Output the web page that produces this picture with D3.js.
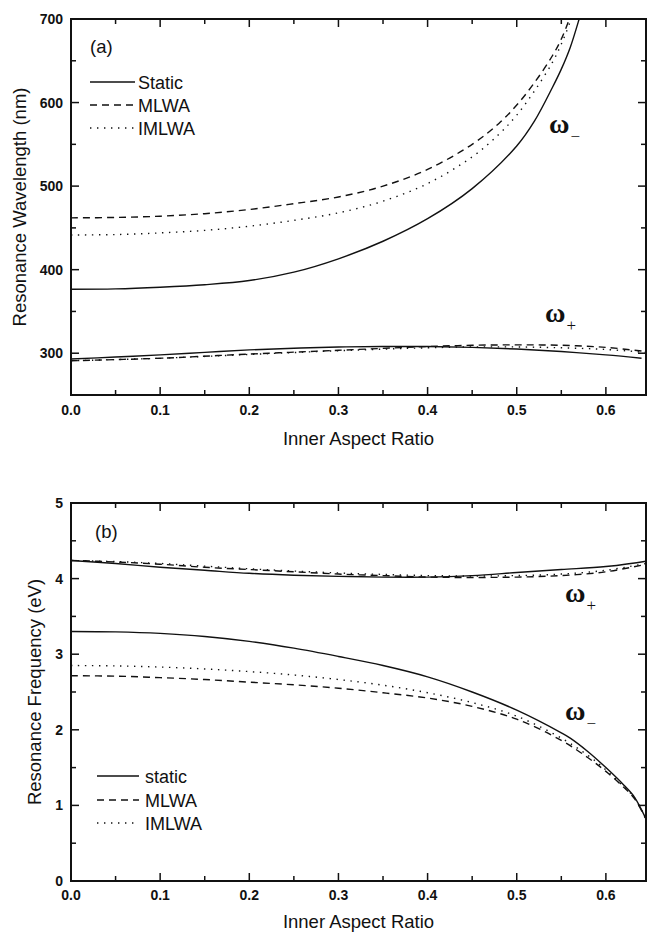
<!DOCTYPE html>
<html lang="en">
<head>
    <meta charset="UTF-8">
    <title>Resonance vs Inner Aspect Ratio</title>
    <script src="https://d3js.org/d3.v7.min.js"></script>
    <style>
        body { margin: 0; background: #fff; }
        svg { display: block; font-family: Arial, "Liberation Sans", sans-serif; }
        .tick-label { font-weight: bold; font-size: 14px; fill: #111; }
        .axis-title { font-size: 18.5px; fill: #111; }
        .legend-text { font-size: 18px; fill: #111; }
        .omega { font-family: "Liberation Serif", "DejaVu Serif", serif; font-weight: bold; font-size: 28px; fill: #111; }
        .curve { fill: none; stroke: #111; stroke-width: 1.4px; }
    </style>
</head>
<body>
<script>
    // panel (a): resonance wavelength (nm) vs inner aspect ratio
    const aStaticMinus = [[0,376.5],[0.05,377],[0.1,379],[0.15,382],[0.2,387],[0.25,397],[0.3,413],[0.35,434],[0.4,461],[0.45,497],[0.5,548],[0.52,578],[0.54,618],[0.55,640],[0.56,666],[0.57,700],[0.58,738]];
    const aMlwaMinus = [[0,462],[0.05,462.5],[0.1,464],[0.15,467],[0.2,472],[0.25,479],[0.3,487],[0.35,500],[0.4,520],[0.45,550],[0.48,575],[0.5,597],[0.52,624],[0.54,656],[0.55,676],[0.56,703],[0.57,735]];
    const aImlwaMinus = [[0,441.5],[0.05,442],[0.1,444],[0.15,447],[0.2,452],[0.25,459],[0.3,468],[0.35,482],[0.4,503],[0.45,535],[0.48,562],[0.5,585],[0.52,614],[0.54,648],[0.55,670],[0.56,697],[0.57,730]];
    const aStaticPlus = [[0,293],[0.05,295.5],[0.1,298],[0.15,301],[0.2,304],[0.25,306],[0.3,307.5],[0.35,308],[0.4,308],[0.45,307],[0.5,305],[0.55,302],[0.6,298],[0.64,294]];
    const aMlwaPlus = [[0,291],[0.1,294],[0.2,299],[0.3,303.5],[0.4,308],[0.45,309.5],[0.5,310],[0.55,309.5],[0.6,307],[0.645,302]];
    const aImlwaPlus = [[0,291],[0.1,294],[0.2,298.5],[0.3,303],[0.4,306.5],[0.45,307.5],[0.5,307.5],[0.55,306.5],[0.6,304.5],[0.645,301]];

    // panel (b): resonance frequency (eV) vs inner aspect ratio
    const bStaticPlus = [[0,4.24],[0.05,4.2],[0.1,4.15],[0.15,4.11],[0.2,4.07],[0.25,4.045],[0.3,4.03],[0.35,4.02],[0.4,4.02],[0.45,4.04],[0.5,4.08],[0.55,4.12],[0.6,4.16],[0.645,4.23]];
    const bMlwaPlus = [[0,4.24],[0.05,4.22],[0.1,4.19],[0.15,4.15],[0.2,4.12],[0.25,4.09],[0.3,4.06],[0.35,4.04],[0.4,4.02],[0.45,4.015],[0.5,4.02],[0.55,4.04],[0.6,4.09],[0.645,4.19]];
    const bImlwaPlus = [[0,4.24],[0.05,4.225],[0.1,4.2],[0.15,4.165],[0.2,4.13],[0.25,4.1],[0.3,4.075],[0.35,4.055],[0.4,4.04],[0.45,4.035],[0.5,4.04],[0.55,4.06],[0.6,4.11],[0.645,4.2]];
    const bStaticMinus = [[0,3.3],[0.05,3.295],[0.1,3.275],[0.15,3.235],[0.2,3.17],[0.25,3.08],[0.3,2.97],[0.35,2.85],[0.4,2.7],[0.45,2.5],[0.5,2.26],[0.55,1.96],[0.56,1.89],[0.58,1.71],[0.6,1.5],[0.62,1.27],[0.632,1.11],[0.645,0.82]];
    const bMlwaMinus = [[0,2.715],[0.05,2.71],[0.1,2.69],[0.15,2.665],[0.2,2.63],[0.25,2.595],[0.3,2.55],[0.35,2.49],[0.4,2.42],[0.45,2.31],[0.5,2.14],[0.55,1.86],[0.58,1.63],[0.6,1.45],[0.62,1.24],[0.632,1.09],[0.645,0.82]];
    const bImlwaMinus = [[0,2.85],[0.05,2.845],[0.1,2.83],[0.15,2.805],[0.2,2.77],[0.25,2.725],[0.3,2.665],[0.35,2.59],[0.4,2.49],[0.45,2.36],[0.5,2.18],[0.55,1.89],[0.58,1.66],[0.6,1.47],[0.62,1.25],[0.632,1.1],[0.645,0.82]];

    const xTicks = [0, 0.1, 0.2, 0.3, 0.4, 0.5, 0.6];
    const xMinorTicks = [0.05, 0.15, 0.25, 0.35, 0.45, 0.55];
    const aYTicks = [300, 400, 500, 600, 700];
    const aYMinorTicks = [350, 450, 550, 650];
    const bYTicks = [0, 1, 2, 3, 4, 5];
    const bYMinorTicks = [0.5, 1.5, 2.5, 3.5, 4.5];
    const legendA = ["Static", "MLWA", "IMLWA"];
    const legendB = ["static", "MLWA", "IMLWA"];

    const styles = { solid: null, dashed: "7,5", dotted: "1.4,5.6" };

    const width = 647, height = 932;
    const svg = d3.select("body").append("svg")
        .attr("width", width)
        .attr("height", height);

    const left = 71, right = 646;

    function panel(cfg) {
        const x = d3.scaleLinear().domain([0, 0.645]).range([left, right]);
        const y = d3.scaleLinear().domain(cfg.yDomain).range([cfg.bottom, cfg.top]);
        const g = svg.append("g");

        const clipId = "clip-" + cfg.name;
        svg.append("clipPath").attr("id", clipId)
            .append("rect")
            .attr("x", left).attr("y", cfg.top)
            .attr("width", right - left).attr("height", cfg.bottom - cfg.top);

        // curves
        const line = d3.line()
            .x(d => x(d[0]))
            .y(d => y(d[1]))
            .curve(d3.curveCatmullRom.alpha(0.5));

        const curves = g.append("g").attr("clip-path", `url(#${clipId})`);
        cfg.series.forEach(s => {
            curves.append("path")
                .attr("class", "curve")
                .attr("d", line(s.data))
                .attr("stroke-dasharray", styles[s.style]);
        });

        // frame
        g.append("rect")
            .attr("x", left).attr("y", cfg.top)
            .attr("width", right - left).attr("height", cfg.bottom - cfg.top)
            .attr("fill", "none").attr("stroke", "#111").attr("stroke-width", 2);

        // ticks on all four sides, pointing inward
        const ticksG = g.append("g").attr("stroke", "#111").attr("stroke-width", 1.5);
        xTicks.concat(xMinorTicks).forEach(t => {
            const len = xTicks.includes(t) ? 8 : 5;
            ticksG.append("line").attr("x1", x(t)).attr("x2", x(t))
                .attr("y1", cfg.bottom).attr("y2", cfg.bottom - len);
            ticksG.append("line").attr("x1", x(t)).attr("x2", x(t))
                .attr("y1", cfg.top).attr("y2", cfg.top + len);
        });
        cfg.yTicks.concat(cfg.yMinor).forEach(t => {
            const len = cfg.yTicks.includes(t) ? 8 : 5;
            ticksG.append("line").attr("x1", left).attr("x2", left + len)
                .attr("y1", y(t)).attr("y2", y(t));
            ticksG.append("line").attr("x1", right).attr("x2", right - len)
                .attr("y1", y(t)).attr("y2", y(t));
        });

        // tick labels
        g.selectAll(".xl").data(xTicks).enter().append("text")
            .attr("class", "tick-label")
            .attr("x", d => x(d))
            .attr("y", cfg.bottom + cfg.xLabelOffset)
            .attr("text-anchor", "middle")
            .text(d => d3.format(".1f")(d));

        g.selectAll(".yl").data(cfg.yTicks).enter().append("text")
            .attr("class", "tick-label")
            .attr("x", 63)
            .attr("y", d => y(d) + 5)
            .attr("text-anchor", "end")
            .text(d => d);

        // axis titles
        g.append("text").attr("class", "axis-title")
            .attr("x", (left + right) / 2)
            .attr("y", cfg.bottom + cfg.titleOffset)
            .attr("text-anchor", "middle")
            .text("Inner Aspect Ratio");

        g.append("text").attr("class", "axis-title")
            .attr("transform", `translate(${cfg.yTitleX},${(cfg.top + cfg.bottom) / 2}) rotate(-90)`)
            .attr("text-anchor", "middle")
            .text(cfg.yTitle);

        // panel letter
        g.append("text").attr("class", "axis-title")
            .attr("x", cfg.letterPos[0]).attr("y", cfg.letterPos[1])
            .text(cfg.letter);

        // legend
        const lg = g.append("g");
        cfg.legend.forEach((name, i) => {
            const ly = cfg.legendY[i];
            lg.append("line")
                .attr("class", "curve")
                .attr("x1", cfg.legendX[0]).attr("x2", cfg.legendX[1])
                .attr("y1", ly).attr("y2", ly)
                .attr("stroke-dasharray", styles[["solid", "dashed", "dotted"][i]]);
            lg.append("text").attr("class", "legend-text")
                .attr("x", cfg.legendX[2]).attr("y", ly + 6.5)
                .text(name);
        });

        // omega labels
        cfg.omegas.forEach(o => {
            const t = g.append("text").attr("class", "omega")
                .attr("x", o.x).attr("y", o.y);
            t.append("tspan").text("ω");
            t.append("tspan")
                .attr("dx", 1).attr("dy", 9)
                .style("font-size", "17px")
                .style("font-weight", "normal")
                .text(o.sub);
        });
    }

    panel({
        name: "a",
        top: 19, bottom: 395,
        yDomain: [250, 700],
        yTicks: aYTicks, yMinor: aYMinorTicks,
        xLabelOffset: 20, titleOffset: 50,
        yTitleX: 26, yTitle: "Resonance Wavelength (nm)",
        letter: "(a)", letterPos: [90, 53],
        legend: legendA, legendY: [82, 105, 128], legendX: [90, 135, 138],
        omegas: [{ x: 549, y: 133, sub: "−" }, { x: 545, y: 322, sub: "+" }],
        series: [
            { data: aStaticMinus, style: "solid" },
            { data: aMlwaMinus, style: "dashed" },
            { data: aImlwaMinus, style: "dotted" },
            { data: aStaticPlus, style: "solid" },
            { data: aMlwaPlus, style: "dashed" },
            { data: aImlwaPlus, style: "dotted" }
        ]
    });

    panel({
        name: "b",
        top: 503, bottom: 881,
        yDomain: [0, 5],
        yTicks: bYTicks, yMinor: bYMinorTicks,
        xLabelOffset: 19, titleOffset: 47,
        yTitleX: 41, yTitle: "Resonance Frequency (eV)",
        letter: "(b)", letterPos: [95, 538],
        legend: legendB, legendY: [776, 800, 823], legendX: [97, 139, 145],
        omegas: [{ x: 565, y: 602, sub: "+" }, { x: 565, y: 720, sub: "−" }],
        series: [
            { data: bStaticPlus, style: "solid" },
            { data: bMlwaPlus, style: "dashed" },
            { data: bImlwaPlus, style: "dotted" },
            { data: bStaticMinus, style: "solid" },
            { data: bMlwaMinus, style: "dashed" },
            { data: bImlwaMinus, style: "dotted" }
        ]
    });
</script>
</body>
</html>
